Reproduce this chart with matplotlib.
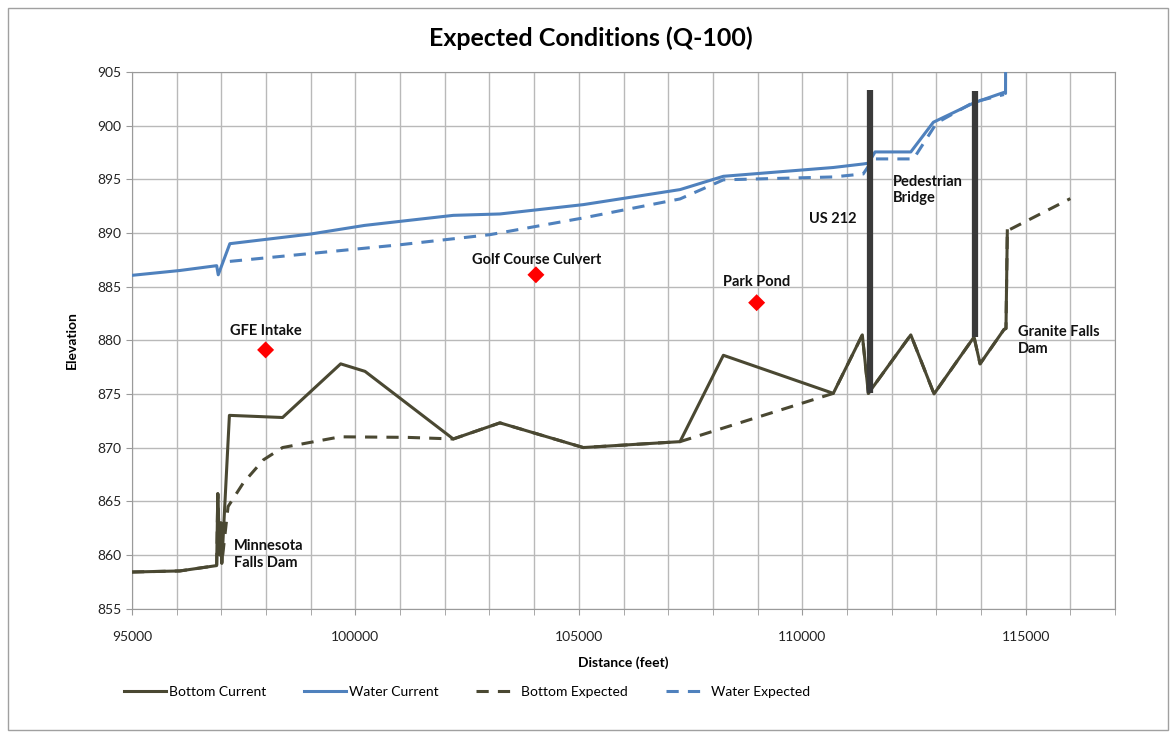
import matplotlib
matplotlib.use("Agg")
import matplotlib.pyplot as plt
from matplotlib.patches import Rectangle

plt.rcParams['font.family'] = ['Lato', 'DejaVu Sans']

# ---- data ----
bottom_current_x = [95000, 96070, 96895, 96920, 96960, 96990, 97010, 97180, 98370, 99670,
                    100215, 102190, 103235, 105100, 107265, 108235, 110695, 111345, 111480,
                    112430, 112950, 113845, 113980, 114515, 114560, 114590]
bottom_current_y = [858.4, 858.5, 859.0, 865.7, 860.0, 863.0, 859.2, 873.0, 872.8, 877.8,
                    877.1, 870.8, 872.3, 870.0, 870.55, 878.6, 875.05, 880.5, 875.05,
                    880.5, 875.0, 880.3, 877.8, 881.0, 881.1, 890.2]

bottom_expected_x = [95000, 96070, 96895, 96920, 96960, 96990, 97010, 97150, 97490, 97940,
                     98370, 99660, 101150, 102190, 103235, 105100, 107265, 110695, 111345,
                     111480, 112430, 112950, 113845, 113980, 114515, 114560, 114590, 116000]
bottom_expected_y = [858.4, 858.5, 859.0, 865.7, 860.0, 863.0, 859.2, 864.5, 866.7, 868.85,
                     870.0, 871.0, 870.95, 870.8, 872.3, 870.0, 870.55, 875.05, 880.5,
                     875.05, 880.5, 875.0, 880.3, 877.8, 881.0, 881.1, 890.2, 893.2]

water_current_x = [95000, 96070, 96895, 96930, 97190, 99000, 100200, 101000, 102190, 103235,
                   105100, 107265, 108235, 110695, 111365, 111480, 111630, 112430, 112935,
                   113845, 114515, 114550, 114555]
water_current_y = [886.05, 886.5, 886.95, 886.1, 889.0, 889.9, 890.7, 891.08, 891.64, 891.77,
                   892.64, 894.04, 895.28, 896.1, 896.43, 896.5, 897.55, 897.55, 900.32,
                   902.13, 903.1, 903.0, 910.0]

water_expected_x = [97190, 101000, 103010, 105100, 107265, 108235, 110695, 111365, 111590,
                    112490, 113010, 113845, 114515]
water_expected_y = [887.35, 888.9, 889.84, 891.4, 893.17, 894.95, 895.22, 895.5, 896.9,
                    896.9, 900.26, 902.2, 902.9]

bridge_x = [111517, 113868]
bridge_top = [903.3, 903.2]
bridge_bottom = [875.07, 880.3]

poi_names = ["GFE Intake", "Golf Course Culvert", "Park Pond"]
poi_x = [97990, 104040, 108980]
poi_y = [879.1, 886.1, 883.5]

x_ticks = [95000, 100000, 105000, 110000, 115000]
y_ticks = [855, 860, 865, 870, 875, 880, 885, 890, 895, 900, 905]

# ---- figure ----
W, H = 1176, 738
fig = plt.figure(figsize=(W / 100, H / 100), dpi=100)
fig.patches.append(Rectangle((8 / W, 8 / H), 1 - 16 / W, 1 - 16 / H, transform=fig.transFigure,
                             fill=False, edgecolor='#a0a0a0', linewidth=1))

ax = fig.add_axes([132 / W, 1 - 608.5 / H, (1115 - 132) / W, (608.5 - 72) / H])

bottom_col = '#4a4832'
water_col = '#4f81bd'
lw = 2.2

ax.plot(bottom_current_x, bottom_current_y, color=bottom_col, lw=lw, label='Bottom Current', zorder=3)
ax.plot(water_current_x, water_current_y, color=water_col, lw=lw, label='Water Current', zorder=3)
ax.plot(bottom_expected_x, bottom_expected_y, color=bottom_col, lw=lw, ls=(0, (4, 3)),
        label='Bottom Expected', zorder=3)
ax.plot(water_expected_x, water_expected_y, color=water_col, lw=lw, ls=(0, (4, 3)),
        label='Water Expected', zorder=3)

ax.vlines(bridge_x, bridge_bottom, bridge_top, color='#3a3a3a', lw=4.5, zorder=4)
ax.scatter(poi_x, poi_y, marker='D', s=75, color='#ff0000', zorder=5, edgecolors='none')

ax.set_xlim(95000, 117000)
ax.set_ylim(855, 905)
ax.set_xticks(x_ticks)
ax.set_xticks(range(95000, 117001, 1000), minor=True)
ax.set_yticks(y_ticks)
ax.grid(True, which='both', color='#b9b9b9', lw=1, zorder=0)
ax.set_axisbelow(True)
for s in ax.spines.values():
    s.set_color('#9a9a9a')
ax.tick_params(axis='both', which='both', color='#9a9a9a', length=4, labelsize=10,
               labelcolor='#222222')
ax.tick_params(axis='x', which='major', pad=12)

ax.set_xlabel('Distance (feet)', fontsize=10, fontweight='bold', labelpad=10)
ax.set_ylabel('Elevation', fontsize=10, fontweight='bold', labelpad=14)

fig.text(591 / W, 1 - 38 / H, 'Expected Conditions (Q-100)', fontsize=18, fontweight='bold',
         ha='center', va='center')

tk = dict(fontsize=10.5, fontweight='bold', color='#111111', zorder=6)
ax.text(97990, 880.9, poi_names[0], ha='center', va='center', **tk)
ax.text(104060, 887.5, poi_names[1], ha='center', va='center', **tk)
ax.text(108990, 885.45, poi_names[2], ha='center', va='center', **tk)
ax.text(110690, 891.3, 'US 212', ha='center', va='center', **tk)
ax.text(112030, 894.0, 'Pedestrian\nBridge', ha='left', va='center', linespacing=1.25, **tk)
ax.text(114830, 880.0, 'Granite Falls\nDam', ha='left', va='center', linespacing=1.25, **tk)
ax.text(97283, 860.0, 'Minnesota\nFalls Dam', ha='left', va='center', linespacing=1.25, **tk)

fig.legend(loc='center', bbox_to_anchor=(467 / W, 1 - 692 / H), ncol=4, frameon=False,
           fontsize=10, handlelength=3.0, columnspacing=2.7, handletextpad=0.25)

fig.savefig('out.png', dpi=100)
